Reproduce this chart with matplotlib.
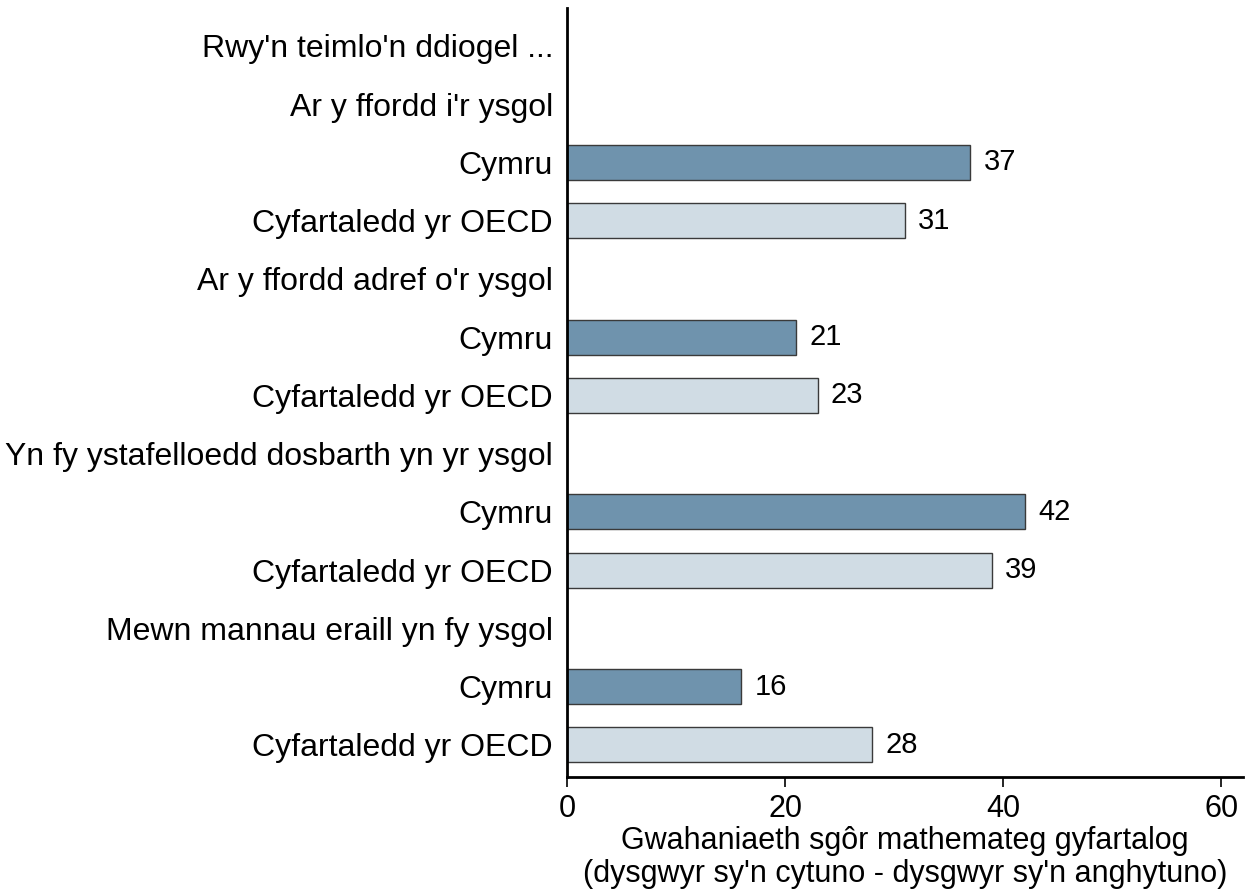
import matplotlib.pyplot as plt
import numpy as np

plt.rcParams['font.family'] = ['Liberation Sans', 'DejaVu Sans']

# row labels, top to bottom
labels = ["Rwy'n teimlo'n ddiogel ...",
          "Ar y ffordd i'r ysgol", "Cymru", "Cyfartaledd yr OECD",
          "Ar y ffordd adref o'r ysgol", "Cymru", "Cyfartaledd yr OECD",
          "Yn fy ystafelloedd dosbarth yn yr ysgol", "Cymru", "Cyfartaledd yr OECD",
          "Mewn mannau eraill yn fy ysgol", "Cymru", "Cyfartaledd yr OECD"]
# None = heading row with no bar
values = [None,
          None, 37, 31,
          None, 21, 23,
          None, 42, 39,
          None, 16, 28]
kinds = [None,
         None, 'wales', 'oecd',
         None, 'wales', 'oecd',
         None, 'wales', 'oecd',
         None, 'wales', 'oecd']

colors = {'wales': '#6f93ad', 'oecd': '#d0dce4'}

fig = plt.figure(figsize=(12.45, 8.91), dpi=100)
ax = fig.add_axes([0.4554, 0.128, 0.5430, 0.863])

y = np.arange(len(labels))
for yi, v, k in zip(y, values, kinds):
    if v is None:
        continue
    ax.barh(yi, v, height=0.6, color=colors[k], edgecolor='#3a3a3a', linewidth=1.0)
    ax.text(v + 1.2, yi, str(v), va='center', ha='left', fontsize=21)

ax.set_yticks(y)
ax.set_yticklabels(labels, fontsize=23)
ax.set_ylim(12.55, -0.65)
ax.tick_params(axis='y', length=0, pad=10)

ax.set_xlim(0, 62)
ax.set_xticks([0, 20, 40, 60])
ax.tick_params(axis='x', labelsize=22, length=7, width=1.2, pad=5)
ax.set_xlabel("Gwahaniaeth sgôr mathemateg gyfartalog\n(dysgwyr sy'n cytuno - dysgwyr sy'n anghytuno)",
              fontsize=22, labelpad=2, linespacing=1.1)

for s in ['top', 'right']:
    ax.spines[s].set_visible(False)
ax.spines['left'].set_linewidth(2)
ax.spines['bottom'].set_linewidth(2)

fig.savefig('out.png', dpi=100)
